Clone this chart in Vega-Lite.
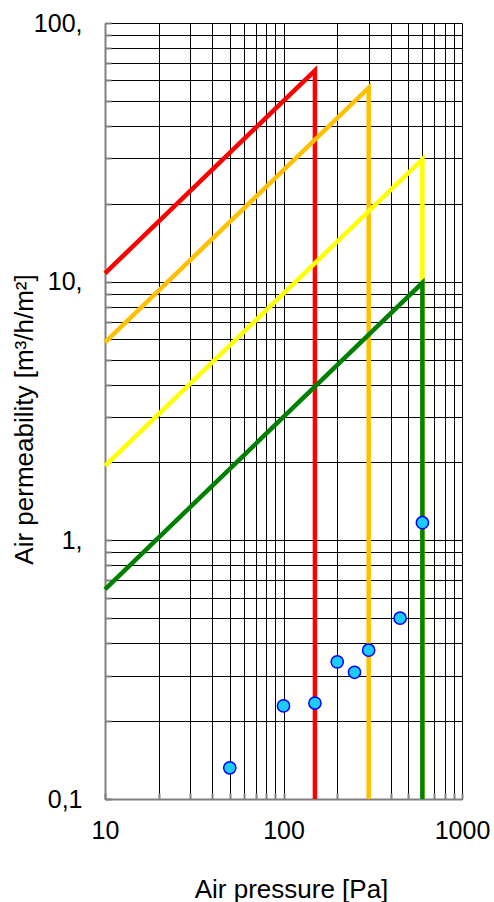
{
  "$schema": "https://vega.github.io/schema/vega-lite/v6.json",
  "width": 357,
  "height": 776,
  "autosize": "none",
  "padding": {"left": 105, "top": 23, "right": 32, "bottom": 103},
  "background": "white",
  "config": {
    "view": {"stroke": null},
    "font": "Liberation Sans",
    "axis": {
      "grid": true,
      "gridColor": "#000000",
      "gridWidth": 1,
      "gridOpacity": 1,
      "domainColor": "#808080",
      "domainWidth": 2,
      "tickColor": "#808080",
      "tickWidth": 2,
      "tickSize": -6,
      "labelFont": "Liberation Sans",
      "labelFontSize": 25,
      "labelColor": "#000000",
      "labelOverlap": false,
      "labelFlush": false,
      "titleFont": "Liberation Sans",
      "titleFontSize": 26,
      "titleFontWeight": "normal",
      "titleColor": "#000000"
    }
  },
  "datasets": {
    "classes": [
      {"cls": "Class 1", "step": 1, "P": 10, "Q": 10.77},
      {"cls": "Class 1", "step": 2, "P": 150, "Q": 65.5},
      {"cls": "Class 1", "step": 3, "P": 150, "Q": 0.1},
      {"cls": "Class 2", "step": 1, "P": 10, "Q": 5.82},
      {"cls": "Class 2", "step": 2, "P": 300, "Q": 56.2},
      {"cls": "Class 2", "step": 3, "P": 300, "Q": 0.1},
      {"cls": "Class 3", "step": 1, "P": 10, "Q": 1.94},
      {"cls": "Class 3", "step": 2, "P": 600, "Q": 29.7},
      {"cls": "Class 3", "step": 3, "P": 600, "Q": 0.1},
      {"cls": "Class 4", "step": 1, "P": 10, "Q": 0.646},
      {"cls": "Class 4", "step": 2, "P": 600, "Q": 9.9},
      {"cls": "Class 4", "step": 3, "P": 600, "Q": 0.1}
    ],
    "measured": [
      {"P": 50, "Q": 0.132},
      {"P": 100, "Q": 0.229},
      {"P": 150, "Q": 0.235},
      {"P": 200, "Q": 0.339},
      {"P": 250, "Q": 0.309},
      {"P": 300, "Q": 0.376},
      {"P": 450, "Q": 0.50},
      {"P": 600, "Q": 1.17}
    ]
  },
  "layer": [
    {
      "data": {"name": "classes"},
      "mark": {"type": "line", "strokeWidth": 4.5, "clip": false},
      "encoding": {
        "x": {
          "field": "P",
          "type": "quantitative",
          "scale": {"type": "log", "domain": [10, 1000], "nice": false},
          "axis": {
            "title": "Air pressure [Pa]",
            "values": [10, 20, 30, 40, 50, 60, 70, 80, 90, 100, 200, 300, 400, 500, 600, 700, 800, 900, 1000],
            "labelExpr": "datum.value == 10 ? '10' : datum.value == 100 ? '100' : datum.value == 1000 ? '1000' : ''",
            "labelPadding": 25,
            "titleX": 186,
            "titleY": 98,
            "titleAlign": "center",
            "titleBaseline": "alphabetic"
          }
        },
        "y": {
          "field": "Q",
          "type": "quantitative",
          "scale": {"type": "log", "domain": [0.1, 100], "nice": false},
          "axis": {
            "title": "Air permeability [m³/h/m²]",
            "values": [0.1, 0.2, 0.3, 0.4, 0.5, 0.6, 0.7, 0.8, 0.9, 1, 2, 3, 4, 5, 6, 7, 8, 9, 10, 20, 30, 40, 50, 60, 70, 80, 90, 100],
            "labelExpr": "datum.value == 100 ? '100,' : datum.value == 10 ? '10,' : datum.value == 1 ? '1,' : datum.value == 0.1 ? '0,1' : ''",
            "labelPadding": 29,
            "titleX": -81,
            "titleY": 396,
            "titleAngle": -90,
            "titleAlign": "center",
            "titleBaseline": "middle"
          }
        },
        "color": {
          "field": "cls",
          "type": "nominal",
          "scale": {"domain": ["Class 1", "Class 2", "Class 3", "Class 4"], "range": ["#FF0000", "#FFC000", "#FFFF00", "#008000"]},
          "legend": null
        },
        "order": {"field": "step", "type": "quantitative"}
      }
    },
    {
      "data": {"name": "measured"},
      "mark": {"type": "point", "shape": "circle", "filled": true, "size": 150, "fill": "#1ECBFF", "stroke": "#0000FF", "strokeWidth": 1.5, "opacity": 1, "clip": false},
      "encoding": {
        "x": {"field": "P", "type": "quantitative"},
        "y": {"field": "Q", "type": "quantitative"}
      }
    }
  ]
}
